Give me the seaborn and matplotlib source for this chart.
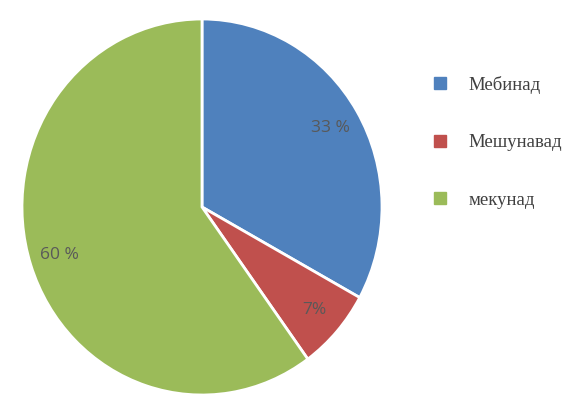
import matplotlib
matplotlib.use("Agg")
import matplotlib.pyplot as plt
from matplotlib.lines import Line2D
import seaborn as sns

categories = ['Мебинад', 'Мешунавад', 'мекунад']
values = [33, 7, 60]
pct_labels = ['33 %', '7%', '60 %']
colors = ['#4F81BD', '#C0504D', '#9BBB59']

sns.set_theme(style='white')
plt.rcParams['font.family'] = ['DejaVu Sans']

fig = plt.figure(figsize=(5.86, 4.17), dpi=100)
fig.patch.set_facecolor('white')
# pie in the reference is a bit taller than wide
ax = fig.add_axes([22 / 586, 22 / 417, 360 / 586, 376 / 417])

wedges, texts, autotexts = ax.pie(values, colors=colors, startangle=90, counterclock=False,
                                  autopct='%d', pctdistance=0.83, radius=1,
                                  wedgeprops=dict(edgecolor='white', linewidth=2))
for t, lab in zip(autotexts, pct_labels):
    t.set_text(lab)
    t.set_color('#595959')
    t.set_fontsize(12.5)
    t.set_family(['Open Sans', 'DejaVu Sans'])
ax.set_aspect('auto')
ax.set_xlim(-1.0, 1.0)
ax.set_ylim(-1.0, 1.0)
ax.axis('off')

handles = [Line2D([0], [0], marker='s', linestyle='none', markersize=8,
                  markerfacecolor=c, markeredgecolor=c) for c in colors]
leg = fig.legend(handles, categories, loc='upper left', bbox_to_anchor=(414 / 586, 1 - 59 / 417),
                 frameon=False, labelspacing=2.15, handlelength=1, handletextpad=1.0,
                 prop={'family': 'Liberation Serif', 'size': 13.5})
for t in leg.get_texts():
    t.set_color('#404040')

fig.savefig('out.png', dpi=100, facecolor='white')
